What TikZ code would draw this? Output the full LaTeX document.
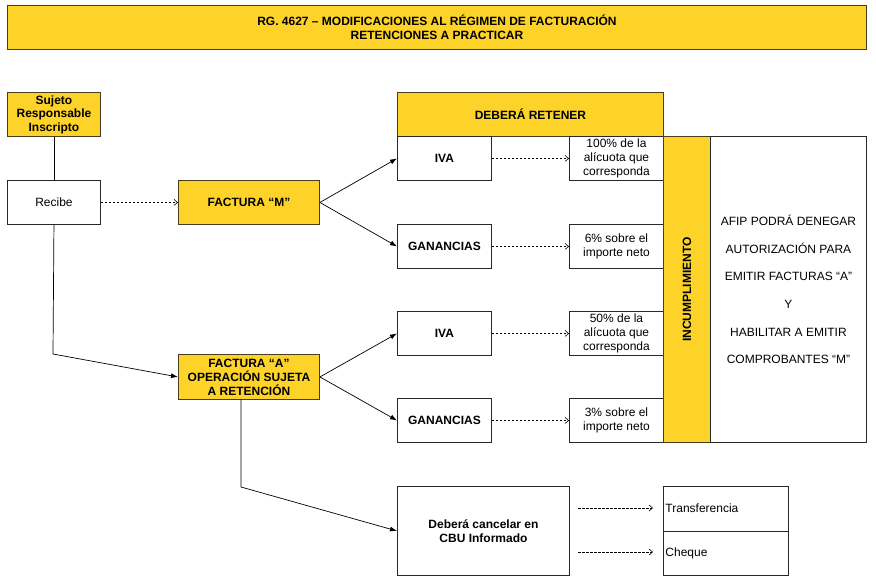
\documentclass[tikz,border=0pt]{standalone}
\usepackage{fontspec}
\setmainfont{Liberation Sans}
\usetikzlibrary{arrows.meta,calc}
\definecolor{yel}{RGB}{253,211,42}
\definecolor{yelborder}{RGB}{70,62,30}
\definecolor{boxborder}{RGB}{40,40,40}
\tikzset{
  every node/.style={font=\fontsize{12}{14}\selectfont, inner sep=0pt, align=center},
  wbox/.style={draw=boxborder, line width=0.9pt, fill=white, anchor=north west},
  ybox/.style={draw=yelborder, line width=0.9pt, fill=yel, anchor=north west},
  bold/.style={font=\fontsize{12}{14}\selectfont\bfseries},
  solidarrow/.style={draw=black, line width=0.7pt, -{Latex[length=7pt,width=5pt]}},
  plain/.style={draw=black, line width=0.7pt},
  dasharrow/.style={draw=black, line width=0.6pt, dash pattern=on 2.5pt off 1.5pt, -{Straight Barb[length=3.5pt,width=6pt]}},
}
\begin{document}
\begin{tikzpicture}[x=1pt,y=-1pt]
\useasboundingbox (0,0) rectangle (876,582);
% title
\node[ybox, minimum width=859, minimum height=44, font=\fontsize{12}{13.5}\selectfont\bfseries] (title) at (7,5)
  {RG. 4627 – MODIFICACIONES AL RÉGIMEN DE FACTURACIÓN\\RETENCIONES A PRACTICAR};
% left column
\node[ybox, minimum width=93, minimum height=44, font=\fontsize{12}{13.5}\selectfont\bfseries] (sujeto) at (7,92) {Sujeto\\Responsable\\Inscripto};
\node[wbox, minimum width=93, minimum height=44] (recibe) at (7,180) {Recibe};
\node[ybox, minimum width=141, minimum height=44, bold] (fm) at (178,180) {FACTURA “M”};
\node[ybox, minimum width=141, minimum height=45, bold] (fa) at (178,354) {FACTURA “A”\\OPERACIÓN SUJETA\\A RETENCIÓN};
% retener block
\node[ybox, minimum width=266, minimum height=44, bold] (retener) at (397,92) {DEBERÁ RETENER};
\node[wbox, minimum width=94, minimum height=44, bold] (iva1) at (397,136) {IVA};
\node[wbox, minimum width=94, minimum height=44] (p1) at (569,136) {100\% de la\\alícuota que\\corresponda};
\node[wbox, minimum width=94, minimum height=44, bold] (gan1) at (397,224) {GANANCIAS};
\node[wbox, minimum width=94, minimum height=44] (p2) at (569,224) {6\% sobre el\\importe neto};
\node[wbox, minimum width=94, minimum height=44, bold] (iva2) at (397,311) {IVA};
\node[wbox, minimum width=94, minimum height=44] (p3) at (569,311) {50\% de la\\alícuota que\\corresponda};
\node[wbox, minimum width=94, minimum height=44, bold] (gan2) at (397,398) {GANANCIAS};
\node[wbox, minimum width=94, minimum height=44] (p4) at (569,398) {3\% sobre el\\importe neto};
% incumplimiento
\node[ybox, minimum width=47, minimum height=306] (inc) at (663,136) {};
\node[bold, rotate=90] (inctext) at (inc.center) {INCUMPLIMIENTO};
\node[wbox, minimum width=156, minimum height=306, font=\fontsize{12}{27.6}\selectfont] (afip) at (710,136)
  {AFIP PODRÁ DENEGAR\\AUTORIZACIÓN PARA\\EMITIR FACTURAS “A”\\Y\\HABILITAR A EMITIR\\COMPROBANTES “M”};
% cancelar
\node[wbox, minimum width=172, minimum height=89, bold] (cancel) at (397,486) {Deberá cancelar en\\CBU Informado};
\node[wbox, minimum width=125, minimum height=44.5, align=left, text width=121, inner xsep=2pt] (trans) at (663,486) {Transferencia};
\node[wbox, minimum width=125, minimum height=44.5, align=left, text width=121, inner xsep=2pt] (cheque) at (663,530.5) {Cheque};
% connectors
\draw[plain] (sujeto.south) -- (recibe.north);
\coordinate (elbow1) at (53,354);
\draw[solidarrow] (recibe.south) -- (elbow1) -- (fa.west);
\draw[dasharrow] (recibe.east) -- (fm.west);
\draw[solidarrow] (fm.east) -- (iva1.west);
\draw[solidarrow] (fm.east) -- (gan1.west);
\draw[solidarrow] (fa.east) -- (iva2.west);
\draw[solidarrow] (fa.east) -- (gan2.west);
\coordinate (faout) at (241,399);
\coordinate (elbow2) at (241,487);
\draw[solidarrow] (faout) -- (elbow2) -- (cancel.west);
\draw[dasharrow] (iva1.east) -- (p1.west);
\draw[dasharrow] (gan1.east) -- (p2.west);
\draw[dasharrow] (iva2.east) -- (p3.west);
\draw[dasharrow] (gan2.east) -- (p4.west);
\coordinate (t1) at (578,508);
\coordinate (t2) at (653,508);
\coordinate (c1) at (578,552);
\coordinate (c2) at (653,552);
\draw[dasharrow] (t1) -- (t2);
\draw[dasharrow] (c1) -- (c2);
\end{tikzpicture}
\end{document}
